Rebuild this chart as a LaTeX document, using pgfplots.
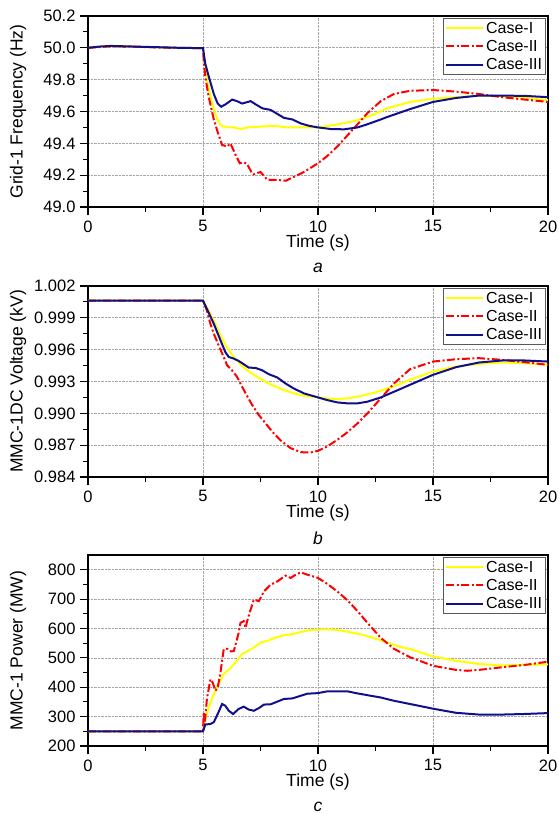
\documentclass[border=0pt]{standalone}
\usepackage{fontspec}
\setmainfont{Liberation Sans}
\usepackage{pgfplots}
\pgfplotsset{compat=1.18}
\definecolor{cI}{RGB}{255,255,0}
\definecolor{cII}{RGB}{255,0,0}
\definecolor{cIII}{RGB}{16,16,140}
\newcommand{\fs}{\fontsize{16.5}{19}\selectfont}
\newcommand{\fl}{\fontsize{17.5}{20}\selectfont}
\pgfplotsset{panel/.style={
  anchor=north west, scale only axis, width=460pt, height=191pt,
  clip=false,
  xmin=0, xmax=20, xtick={0,5,10,15,20}, minor x tick num=1, minor y tick num=1,
  tick align=outside, xtick pos=bottom, ytick pos=left,
  major tick length=8pt, minor tick length=4.5pt,
  grid=major, major grid style={densely dotted, gray!70, line width=0.7pt},
  axis line style={line width=1.1pt},
  every tick/.style={black, line width=1.1pt},
  tick label style={font=\fs},
  label style={font=\fl},
  /pgf/number format/assume math mode=true,
  scaled y ticks=false,
  xlabel={Time (s)},
  xlabel style={at={(axis description cs:0.5,-0.19)}, anchor=center},
  ylabel style={at={(axis description cs:-0.152,0.5)}, anchor=center},
  xticklabel style={yshift=-2pt},
  yticklabel style={xshift=-1pt},
  legend style={at={(1,1)}, anchor=north east, xshift=-2pt, yshift=-2pt,
    font=\fontsize{16}{18}\selectfont, draw=black!65, line width=0.8pt,
    cells={anchor=west}, row sep=1.5pt, inner xsep=1.5pt, inner ysep=1.5pt},
  legend image code/.code={\draw[#1] (0pt,0pt) -- (37pt,0pt);},
}}
\begin{document}
\begin{tikzpicture}
\path[use as bounding box] (0pt,0pt) rectangle (558pt,-814pt);
% ---------------- panel a
\begin{axis}[panel, at={(88pt,-16pt)},
  ymin=49.0, ymax=50.2, ytick={49.0,49.2,49.4,49.6,49.8,50.0,50.2},
  yticklabel style={/pgf/number format/.cd, fixed, fixed zerofill, precision=1},
  ylabel={Grid-1 Frequency (Hz)}]
\addplot[cI, line width=2pt] coordinates {(0,50.0) (1,50.01) (2,50.007) (3,50.003) (4,50.0) (5,49.998) (5.17,49.80) (5.39,49.65) (5.61,49.555) (5.76,49.515) (6.05,49.50) (6.34,49.50) (6.63,49.49) (6.92,49.50) (7.5,49.505) (8.08,49.51) (8.66,49.50) (9.25,49.50) (10,49.50) (10.7,49.515) (11.57,49.54) (12.15,49.565) (12.73,49.60) (13,49.62) (14,49.66) (15,49.68) (16,49.69) (17,49.70) (18,49.695) (19,49.685) (20,49.672)};
\addlegendentry{Case-I}
\addplot[cII, line width=2pt, dash pattern=on 8pt off 2.5pt on 2pt off 2.5pt] coordinates {(0,50.0) (1,50.01) (2,50.007) (3,50.003) (4,50.0) (5,49.998) (5.03,49.92) (5.1,49.82) (5.25,49.69) (5.47,49.55) (5.64,49.47) (5.83,49.39) (6.05,49.38) (6.19,49.40) (6.41,49.33) (6.6,49.275) (6.78,49.28) (6.92,49.27) (7.1,49.22) (7.2,49.205) (7.5,49.22) (7.8,49.17) (8.23,49.17) (8.6,49.165) (8.96,49.19) (9.39,49.22) (10,49.275) (10.4,49.32) (10.84,49.38) (11.28,49.45) (11.72,49.52) (12.15,49.59) (12.73,49.665) (13.3,49.71) (14,49.73) (15,49.735) (16,49.725) (17,49.71) (18,49.69) (19,49.675) (20,49.66)};
\addlegendentry{Case-II}
\addplot[cIII, line width=2pt] coordinates {(0,50.0) (0.5,50.008) (1,50.012) (2,50.008) (3,50.004) (4,50.0) (5,49.998) (5.1,49.90) (5.25,49.82) (5.47,49.71) (5.64,49.65) (5.79,49.63) (5.98,49.645) (6.27,49.675) (6.48,49.665) (6.7,49.65) (7.07,49.665) (7.29,49.645) (7.58,49.62) (7.94,49.61) (8.23,49.585) (8.52,49.56) (8.89,49.55) (9.25,49.525) (9.61,49.51) (10,49.50) (10.55,49.49) (11.14,49.488) (11.72,49.50) (12.15,49.52) (12.73,49.55) (13,49.565) (14,49.615) (15,49.66) (16,49.685) (17,49.70) (18,49.70) (19,49.698) (20,49.69)};
\addlegendentry{Case-III}
\node[font=\fl\itshape] at (rel axis cs:0.5,-0.32) {a};
\end{axis}
% ---------------- panel b
\begin{axis}[panel, at={(88pt,-286pt)},
  ymin=0.984, ymax=1.002, ytick={0.984,0.987,0.990,0.993,0.996,0.999,1.002},
  yticklabel style={/pgf/number format/.cd, fixed, fixed zerofill, precision=3},
  ylabel={MMC-1DC Voltage (kV)}]
\addplot[cI, line width=2pt] coordinates {(0,1.00062) (5,1.00062) (5.17,0.99997) (5.47,0.99875) (5.76,0.99734) (6.05,0.99619) (6.34,0.99531) (6.63,0.99463) (6.92,0.99406) (7.28,0.99353) (7.65,0.99306) (8.08,0.99259) (8.52,0.99219) (8.95,0.99188) (9.39,0.99166) (10,0.9915) (10.4,0.99141) (10.84,0.99134) (11.28,0.99141) (11.86,0.99163) (12.44,0.99194) (13.02,0.99234) (13.6,0.99281) (14,0.99316) (15,0.99394) (16,0.99441) (17,0.99466) (18,0.99479) (19,0.99473) (20,0.99457)};
\addlegendentry{Case-I}
\addplot[cII, line width=2pt, dash pattern=on 8pt off 2.5pt on 2pt off 2.5pt] coordinates {(0,1.00062) (5,1.00062) (5.17,0.99969) (5.32,0.99844) (5.47,0.9975) (5.68,0.99641) (5.9,0.99531) (6.05,0.99453) (6.26,0.99406) (6.48,0.99344) (6.7,0.9925) (6.92,0.99163) (7.14,0.99078) (7.43,0.98984) (7.72,0.98906) (8.01,0.98828) (8.38,0.98744) (8.81,0.98672) (9.24,0.98634) (9.68,0.98631) (10,0.98647) (10.4,0.98688) (10.84,0.9875) (11.28,0.98822) (11.72,0.98906) (12.15,0.99) (12.73,0.99141) (13.3,0.99281) (14,0.99416) (15,0.99488) (16,0.9951) (17,0.9952) (18,0.99504) (19,0.99482) (20,0.99457)};
\addlegendentry{Case-II}
\addplot[cIII, line width=2pt] coordinates {(0,1.00062) (5,1.00062) (5.17,0.99984) (5.47,0.99844) (5.76,0.99688) (5.97,0.99578) (6.12,0.99531) (6.34,0.99516) (6.55,0.99494) (6.77,0.99463) (6.99,0.99431) (7.28,0.99428) (7.57,0.99406) (7.86,0.99369) (8.23,0.99338) (8.59,0.99281) (8.95,0.99234) (9.39,0.99188) (10,0.9915) (10.4,0.99125) (10.84,0.99103) (11.28,0.99094) (11.72,0.99094) (12.15,0.9911) (12.73,0.9915) (13.3,0.99203) (14,0.99269) (15,0.99363) (16,0.99435) (17,0.99479) (18,0.99498) (19,0.99498) (20,0.99488)};
\addlegendentry{Case-III}
\node[font=\fl\itshape] at (rel axis cs:0.5,-0.32) {b};
\end{axis}
% ---------------- panel c
\begin{axis}[panel, at={(88pt,-555pt)},
  ymin=200, ymax=850, ytick={200,300,400,500,600,700,800},
  ylabel={MMC-1 Power (MW)}]
\addplot[cI, line width=2pt] coordinates {(0,250) (5,250) (5.1,292) (5.25,332) (5.47,377) (5.68,411) (5.9,445) (6.19,465) (6.48,490) (6.7,513) (6.92,522) (7.21,535) (7.5,552) (7.8,558) (8.16,569) (8.52,577) (8.89,581) (9.25,588) (9.61,594) (10,596) (10.4,597) (10.84,595) (11.28,589) (11.86,580) (12.44,567) (13.02,552) (13.6,537) (14,530) (15,505) (16,490) (17,479) (18,474) (19,476) (20,478)};
\addlegendentry{Case-I}
\addplot[cII, line width=2pt, dash pattern=on 8pt off 2.5pt on 2pt off 2.5pt] coordinates {(0,250) (5,250) (5.03,315) (5.07,272) (5.17,360) (5.32,427) (5.42,416) (5.54,388) (5.64,399) (5.76,450) (5.9,529) (6.05,531) (6.22,522) (6.34,523) (6.55,585) (6.63,619) (6.77,625) (6.85,602) (6.92,625) (7.07,664) (7.21,698) (7.43,693) (7.65,726) (7.94,749) (8.23,760) (8.59,780) (8.81,772) (9.03,783) (9.25,791) (9.54,783) (10,772) (10.4,752) (10.84,726) (11.28,696) (11.72,659) (12.15,619) (12.73,568) (13.3,531) (14,502) (15,473) (16,459) (16.5,456) (17,459) (18,468) (19,476) (20,487)};
\addlegendentry{Case-II}
\addplot[cIII, line width=2pt] coordinates {(0,250) (5,250) (5.1,273) (5.32,275) (5.47,281) (5.64,309) (5.83,343) (5.97,337) (6.12,320) (6.31,309) (6.55,326) (6.77,334) (6.99,324) (7.21,320) (7.43,329) (7.65,341) (7.94,342) (8.23,351) (8.52,360) (8.89,362) (9.25,371) (9.54,378) (10,380) (10.4,386) (10.84,386) (11.28,386) (11.72,379) (12.15,373) (12.73,365) (13.3,354) (14,343) (15,327) (16,313) (17,307) (18,307) (19,309) (20,312)};
\addlegendentry{Case-III}
\node[font=\fl\itshape] at (rel axis cs:0.5,-0.32) {c};
\end{axis}
\end{tikzpicture}
\end{document}
